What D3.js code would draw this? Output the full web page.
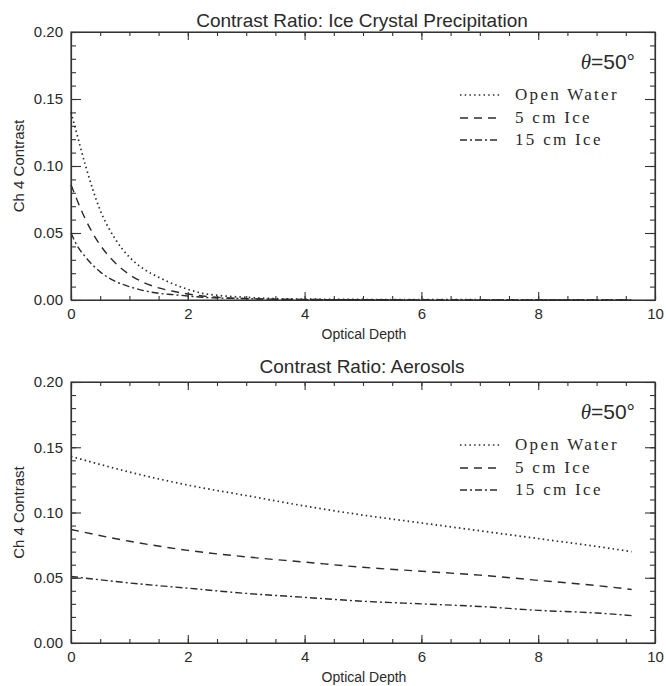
<!DOCTYPE html>
<html>
<head>
<meta charset="utf-8">
<script src="https://cdn.jsdelivr.net/npm/d3@7"></script>
<style>
body{margin:0;background:#fff;}
svg{display:block;}
text{font-family:"Liberation Sans",Arial,Helvetica,sans-serif;fill:#2a2a2a;}
.axis path,.axis line{stroke:#333;stroke-width:1.1;}
.axis text{font-size:15px;}
</style>
</head>
<body>
<div id="plot"></div>
<script>
// optical depth samples and contrast values
var tauIce = [0,0.1,0.25,0.5,0.75,1,1.25,1.5,1.75,2,2.25,2.5,3,3.5,4,5,6,7,8,9,9.6];
var iceOpenWater = [0.140,0.124,0.100,0.067,0.046,0.032,0.023,0.017,0.012,0.008,0.005,0.0035,0.002,0.001,0.0007,0.0004,0.0003,0.0002,0.0001,0.0001,0.0001];
var ice5cm = [0.086,0.075,0.060,0.041,0.028,0.019,0.013,0.009,0.0065,0.0045,0.003,0.002,0.001,0.0006,0.0004,0.0002,0.0001,0.0001,0.0001,0.0001,0.0001];
var ice15cm = [0.050,0.041,0.032,0.021,0.014,0.010,0.007,0.005,0.004,0.003,0.002,0.0015,0.001,0.0005,0.0003,0.0002,0.0001,0.0001,0.0001,0.0001,0.0001];

var tauAer = [0,1,2,3,4,5,6,7,8,9,9.6];
var aerOpenWater = [0.143,0.131,0.121,0.113,0.105,0.098,0.092,0.086,0.080,0.074,0.070];
var aer5cm = [0.087,0.078,0.071,0.066,0.062,0.058,0.055,0.052,0.048,0.044,0.041];
var aer15cm = [0.051,0.046,0.042,0.038,0.035,0.032,0.030,0.028,0.025,0.023,0.021];

var seriesNames = ['Open Water','5 cm Ice','15 cm Ice'];
var dashes = ['1.5,3.2','8,6','7,3,2,3'];
var yTicks = [0,0.05,0.10,0.15,0.20];
var xTicks = [0,2,4,6,8,10];

var W = 666, H = 686;
var svg = d3.select('#plot').append('svg').attr('width',W).attr('height',H);

var x = d3.scaleLinear().domain([0,10]).range([71,655]);

function panel(title, tau, vals, top, bottom, titleY){
	var y = d3.scaleLinear().domain([0,0.2]).range([bottom,top]);
	var g = svg.append('g');

	// frame
	g.append('rect').attr('x',x(0)).attr('y',top)
		.attr('width',x(10)-x(0)).attr('height',bottom-top)
		.attr('fill','none').attr('stroke','#333').attr('stroke-width',1.1);

	// left axis (ticks inward)
	g.append('g').attr('class','axis').attr('transform','translate('+x(0)+',0)')
		.call(d3.axisLeft(y).tickValues(yTicks).tickFormat(d3.format('.2f')).tickSize(-10).tickSizeOuter(0).tickPadding(8));
	g.append('g').attr('class','axis').attr('transform','translate('+x(0)+',0)')
		.call(d3.axisLeft(y).tickValues(d3.range(0,0.2001,0.01)).tickFormat('').tickSize(-5).tickSizeOuter(0));
	// right axis
	g.append('g').attr('class','axis').attr('transform','translate('+x(10)+',0)')
		.call(d3.axisLeft(y).tickValues(yTicks).tickFormat('').tickSize(10).tickSizeOuter(0));
	g.append('g').attr('class','axis').attr('transform','translate('+x(10)+',0)')
		.call(d3.axisLeft(y).tickValues(d3.range(0,0.2001,0.01)).tickFormat('').tickSize(5).tickSizeOuter(0));
	// bottom axis
	g.append('g').attr('class','axis').attr('transform','translate(0,'+bottom+')')
		.call(d3.axisBottom(x).tickValues(xTicks).tickFormat(d3.format('d')).tickSize(-8).tickSizeOuter(0).tickPadding(8));
	g.append('g').attr('class','axis').attr('transform','translate(0,'+bottom+')')
		.call(d3.axisBottom(x).tickValues(d3.range(0,10.01,0.5)).tickFormat('').tickSize(-4).tickSizeOuter(0));
	// top axis
	g.append('g').attr('class','axis').attr('transform','translate(0,'+top+')')
		.call(d3.axisBottom(x).tickValues(xTicks).tickFormat('').tickSize(8).tickSizeOuter(0));
	g.append('g').attr('class','axis').attr('transform','translate(0,'+top+')')
		.call(d3.axisBottom(x).tickValues(d3.range(0,10.01,0.5)).tickFormat('').tickSize(4).tickSizeOuter(0));

	g.append('text').attr('x',362).attr('y',titleY).attr('text-anchor','middle')
		.style('font-size','19px').text(title);
	g.append('text').attr('x',364).attr('y',bottom+39).attr('text-anchor','middle')
		.style('font-size','14px').text('Optical Depth');
	g.append('text').attr('transform','translate(24,'+((top+bottom)/2)+') rotate(-90)')
		.attr('text-anchor','middle').style('font-size','15px').text('Ch 4 Contrast');

	var line = d3.line()
		.x(function(d){ return x(d[0]); })
		.y(function(d){ return y(d[1]); })
		.curve(d3.curveMonotoneX);

	vals.forEach(function(v,i){
		g.append('path')
			.datum(tau.map(function(t,j){ return [t,v[j]]; }))
			.attr('d',line)
			.attr('fill','none')
			.attr('stroke','#2b2b2b')
			.attr('stroke-width',i==0?1.7:1.4)
			.attr('stroke-dasharray',dashes[i]);
	});

	// theta label
	var th = g.append('text').attr('x',635).attr('y',top+37).attr('text-anchor','end').style('font-size','21px');
	th.append('tspan').style('font-family','"Liberation Serif","Times New Roman",serif').style('font-style','italic').text('θ');
	th.append('tspan').text('=50°');

	// legend
	var rows = [top+63, top+86, top+108];
	seriesNames.forEach(function(n,i){
		g.append('line').attr('x1',460).attr('x2',500).attr('y1',rows[i]).attr('y2',rows[i])
			.attr('stroke','#2b2b2b').attr('stroke-width',i==0?1.5:1.3).attr('stroke-dasharray',dashes[i]);
		g.append('text').attr('x',515).attr('y',rows[i]+5)
			.style('font-family','"Liberation Serif","Times New Roman",serif')
			.style('font-size','17px').style('letter-spacing','2.3px').text(n);
	});
}

panel('Contrast Ratio: Ice Crystal Precipitation',tauIce,[iceOpenWater,ice5cm,ice15cm],32,300,27);
panel('Contrast Ratio: Aerosols',tauAer,[aerOpenWater,aer5cm,aer15cm],382,643,373);
</script>
</body>
</html>
